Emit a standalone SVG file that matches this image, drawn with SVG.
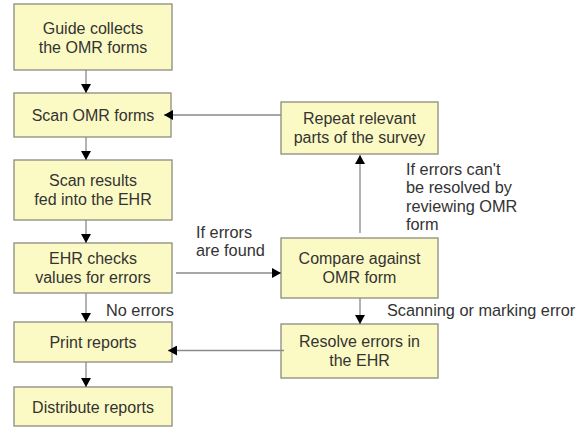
<svg xmlns="http://www.w3.org/2000/svg" width="578" height="427" viewBox="0 0 578 427">
<style>
.box{fill:#fcfac4;stroke:#8c8c80;stroke-width:1.3}
.t{font-family:"Liberation Sans",Arial,sans-serif;font-size:16px;fill:#333;text-anchor:middle}
.l{font-family:"Liberation Sans",Arial,sans-serif;font-size:16.3px;fill:#333}
.c{fill:none;stroke:#8a8a8a;stroke-width:1.3}
</style>
<defs>
<marker id="ah" markerWidth="9" markerHeight="10" refX="9" refY="5" orient="auto" markerUnits="userSpaceOnUse">
<path d="M0,0 L9,5 L0,10 Z" fill="#000"/>
</marker>
</defs>
<rect width="578" height="427" fill="#fff"/>
<g id="guide">
<rect class="box" x="14" y="4" width="158" height="66"/>
<text class="t" x="93" y="34">Guide collects</text>
<text class="t" x="93" y="52.5">the OMR forms</text>
</g>
<g id="scan">
<rect class="box" x="14" y="93" width="157" height="44"/>
<text class="t" x="93" y="120.7">Scan OMR forms</text>
</g>
<g id="results">
<rect class="box" x="14" y="160" width="158" height="60"/>
<text class="t" x="93" y="186">Scan results</text>
<text class="t" x="93" y="204.5">fed into the EHR</text>
</g>
<g id="checks">
<rect class="box" x="14" y="243" width="158" height="50"/>
<text class="t" x="93" y="264">EHR checks</text>
<text class="t" x="93" y="282.5">values for errors</text>
</g>
<g id="print">
<rect class="box" x="14" y="322" width="158" height="40"/>
<text class="t" x="93" y="348">Print reports</text>
</g>
<g id="distribute">
<rect class="box" x="14" y="387" width="158" height="39"/>
<text class="t" x="93" y="412.5">Distribute reports</text>
</g>
<g id="repeat">
<rect class="box" x="281" y="102" width="157" height="52"/>
<text class="t" x="359.5" y="124.3">Repeat relevant</text>
<text class="t" x="359.5" y="142.7">parts of the survey</text>
</g>
<g id="compare">
<rect class="box" x="281" y="238" width="157" height="60"/>
<text class="t" x="359.5" y="264">Compare against</text>
<text class="t" x="359.5" y="282.7">OMR form</text>
</g>
<g id="resolve">
<rect class="box" x="281" y="324" width="157" height="54"/>
<text class="t" x="359.5" y="347">Resolve errors in</text>
<text class="t" x="359.5" y="365.5">the EHR</text>
</g>
<g id="connectors">
<line class="c" x1="86" y1="70" x2="86" y2="93" marker-end="url(#ah)"/>
<line class="c" x1="86" y1="137" x2="86" y2="160" marker-end="url(#ah)"/>
<line class="c" x1="86" y1="220" x2="86" y2="243" marker-end="url(#ah)"/>
<line class="c" x1="86" y1="293" x2="86" y2="322" marker-end="url(#ah)"/>
<line class="c" x1="86" y1="362" x2="86" y2="387" marker-end="url(#ah)"/>
<line class="c" x1="281" y1="115" x2="164" y2="115" marker-end="url(#ah)"/>
<line class="c" x1="176" y1="273" x2="281" y2="273" marker-end="url(#ah)"/>
<line class="c" x1="360" y1="233" x2="360" y2="155" marker-end="url(#ah)"/>
<line class="c" x1="360" y1="298" x2="360" y2="324" marker-end="url(#ah)"/>
<line class="c" x1="284" y1="350.5" x2="168" y2="350.5" marker-end="url(#ah)"/>
</g>
<g id="labels">
<text class="l" x="196" y="238">If errors</text>
<text class="l" x="196" y="256">are found</text>
<text class="l" x="406" y="175">If errors can't</text>
<text class="l" x="406" y="193.3">be resolved by</text>
<text class="l" x="406" y="211.7">reviewing OMR</text>
<text class="l" x="406" y="230">form</text>
<text class="l" x="387" y="316">Scanning or marking error</text>
<text class="l" x="106" y="316">No errors</text>
</g>
</svg>
